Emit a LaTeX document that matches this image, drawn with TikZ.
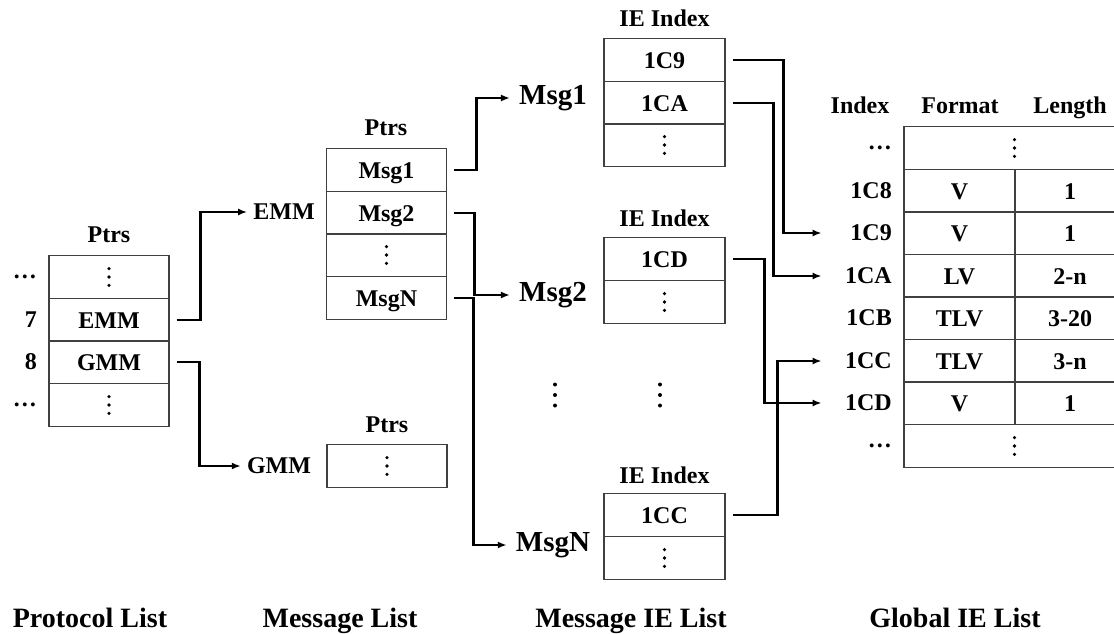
\documentclass[tikz,border=0pt]{standalone}
\usepackage{fontspec}
\setmainfont{Liberation Serif}
\usetikzlibrary{arrows.meta}
\newcommand\vdts[1]{\fill (#1.center) circle (1.8pt) ++(0,-8.4) circle (1.8pt) (#1.center) ++(0,8.4) circle (1.8pt);}
\begin{document}
\begin{tikzpicture}[x=1pt,y=-1pt,
  txt/.style={font=\bfseries\fontsize{24}{26}\selectfont, inner sep=0pt},
  cell/.style={txt, draw=black!75, line width=1.2pt, minimum height=42.5pt, text height=16pt, text depth=0pt},
  pcell/.style={cell, minimum width=120pt},
  icell/.style={cell, minimum width=121pt},
  fcell/.style={cell, minimum width=111pt},
  lcell/.style={cell, minimum width=110pt},
  wcell/.style={cell, minimum width=221pt},
  lbl/.style={txt, inner sep=6pt},
  msglbl/.style={font=\bfseries\fontsize{29}{32}\selectfont, inner sep=9pt},
  idx/.style={txt, anchor=east, text width=67pt, align=right, inner sep=3pt},
  hdr/.style={txt, anchor=base},
  title/.style={font=\bfseries\fontsize{28}{30}\selectfont, inner sep=0pt, anchor=base},
  conn/.style={line width=2.8pt, -{Latex[length=9pt,width=7pt]}}]
\path[use as bounding box, clip] (0,0) rectangle (1114,633);

% ---------- Protocol list ----------
\node[txt] (pptrs) at (109,235) {Ptrs};
\node[pcell] (p6) at (109,277) {};
\node[pcell] (p7) at (109,320) {EMM};
\node[pcell] (p8) at (109,362) {GMM};
\node[pcell] (p9) at (109,405) {};
\vdts{p6}\vdts{p9}
\node[idx] (pl6) at (40,277) {…};
\node[idx] (pl7) at (40,320) {7};
\node[idx] (pl8) at (40,362) {8};
\node[idx] (pl9) at (40,405) {…};

% ---------- Message list ----------
\node[lbl] (lEMM) at (284,212) {EMM};
\node[lbl] (lGMM) at (279,466) {GMM};
\node[txt] (mptrs) at (386,128) {Ptrs};
\node[pcell] (m1) at (386.5,170) {Msg1};
\node[pcell] (m2) at (386.5,213) {Msg2};
\node[pcell] (m3) at (386.5,255) {};
\node[pcell] (mN) at (386.5,298) {MsgN};
\vdts{m3}
\node[txt] (gptrs) at (387,425) {Ptrs};
\node[pcell] (g1) at (387,466) {};
\vdts{g1}

\draw[conn] ([xshift=7pt]p7.east) -- ++(24,0) |- (lEMM.west);
\draw[conn] ([xshift=7pt]p8.east) -- ++(23,0) |- (lGMM.west);

% ---------- Message IE list ----------
\node[msglbl] (lM1) at (553,98) {Msg1};
\node[msglbl] (lM2) at (553,295) {Msg2};
\node[msglbl] (lMN) at (553,545) {MsgN};

\node[txt] (ie1) at (664.5,18) {IE Index};
\node[icell] (i1a) at (664.5,60) {1C9};
\node[icell] (i1b) at (664.5,103) {1CA};
\node[icell] (i1c) at (664.5,145) {};
\vdts{i1c}
\node[txt] (ie2) at (664.5,218) {IE Index};
\node[icell] (i2a) at (664.5,259) {1CD};
\node[icell] (i2b) at (664.5,302) {};
\vdts{i2b}
\node[txt] (ie3) at (664.5,475) {IE Index};
\node[icell] (i3a) at (664.5,515) {1CC};
\node[icell] (i3b) at (664.5,558) {};
\vdts{i3b}

\coordinate (vd1) at (555,395);
\coordinate (vd2) at (660,395);
\fill (vd1) circle (2pt) ++(0,-10.5) circle (2pt) (vd1) ++(0,10.5) circle (2pt);
\fill (vd2) circle (2pt) ++(0,-10.5) circle (2pt) (vd2) ++(0,10.5) circle (2pt);

\draw[conn] ([xshift=7pt]m1.east) -- ++(22,0) |- (lM1.west);
\draw[conn] ([xshift=7pt]m2.east) -- ++(20,0) |- (lM2.west);
\draw[conn] ([xshift=7pt]mN.east) -- ++(19,0) |- (lMN.west);

% ---------- Global IE list ----------
\node[hdr] (hIdx) at (860,113) {Index};
\node[hdr] (hFmt) at (960,113) {Format};
\node[hdr] (hLen) at (1070,113) {Length};

\node[wcell] (gtop) at (1014.5,148) {};
\node[fcell] (f8) at (959.5,191) {V};   \node[lcell] (l8) at (1070,191) {1};
\node[fcell] (f9) at (959.5,233) {V};   \node[lcell] (l9) at (1070,233) {1};
\node[fcell] (fA) at (959.5,276) {LV};  \node[lcell] (lA) at (1070,276) {2-n};
\node[fcell] (fB) at (959.5,318) {TLV}; \node[lcell] (lB) at (1070,318) {3-20};
\node[fcell] (fC) at (959.5,361) {TLV}; \node[lcell] (lC) at (1070,361) {3-n};
\node[fcell] (fD) at (959.5,403) {V};   \node[lcell] (lD) at (1070,403) {1};
\node[wcell] (gbot) at (1014.5,446) {};
\vdts{gtop}\vdts{gbot}

\node[idx] (x0) at (895,148) {…};
\node[idx] (x8) at (895,191) {1C8};
\node[idx] (x9) at (895,233) {1C9};
\node[idx] (xA) at (895,276) {1CA};
\node[idx] (xB) at (895,318) {1CB};
\node[idx] (xC) at (895,361) {1CC};
\node[idx] (xD) at (895,403) {1CD};
\node[idx] (xE) at (895,446) {…};

\draw[conn] ([xshift=7pt]i1a.east) -- ++(51,0) |- (x9.west);
\draw[conn] ([xshift=7pt]i1b.east) -- ++(41,0) |- (xA.west);
\draw[conn] ([xshift=7pt]i2a.east) -- ++(32,0) |- (xD.west);
\draw[conn] ([xshift=7pt]i3a.east) -- ++(45,0) |- (xC.west);

% ---------- Titles ----------
\node[title] (t1) at (90,627) {Protocol List};
\node[title] (t2) at (340,627) {Message List};
\node[title] (t3) at (631,627) {Message IE List};
\node[title] (t4) at (955,627) {Global IE List};
\end{tikzpicture}
\end{document}
